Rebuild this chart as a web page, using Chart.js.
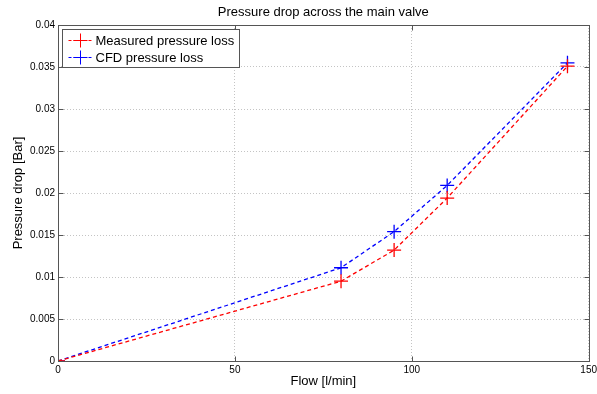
<!DOCTYPE html>
<html>
<head>
<meta charset="utf-8">
<script src="https://cdn.jsdelivr.net/npm/chart.js@4/dist/chart.umd.min.js"></script>
<style>
  html, body { margin: 0; padding: 0; background: #fff; }
  #wrap { width: 597px; height: 394px; }
</style>
</head>
<body>
<div id="wrap"><canvas id="plot" width="597" height="394"></canvas></div>
<script>
const flow = [0, 80, 95, 110, 144];
const measured = [0, 0.0095, 0.0132, 0.0194, 0.0351];
const cfd = [0, 0.0111, 0.0154, 0.0209, 0.0355];
const xTicks = [0, 50, 100, 150];
const yTicks = [0, 0.005, 0.01, 0.015, 0.02, 0.025, 0.03, 0.035, 0.04];
const seriesNames = ['Measured pressure loss', 'CFD pressure loss'];
const seriesColors = ['#ff0000', '#0000ff'];

const font = 'Liberation Sans, Arial, Helvetica, sans-serif';

const toPts = (ys) => flow.map((x, i) => ({ x, y: ys[i] }));

// MATLAB-ish frame, inward ticks, title and boxed legend
const matlabFrame = {
  id: 'matlabFrame',
  afterDraw(chart) {
    const { ctx, chartArea: a, scales } = chart;
    ctx.save();
    ctx.strokeStyle = '#555';
    ctx.lineWidth = 1;
    const L = Math.round(a.left) + 0.5, R = Math.round(a.right) + 0.5;
    const T = Math.round(a.top) + 0.5, B = Math.round(a.bottom) + 0.5;
    ctx.strokeRect(L, T, R - L, B - T);
    ctx.beginPath();
    xTicks.forEach(v => {
      const x = Math.round(scales.x.getPixelForValue(v)) + 0.5;
      ctx.moveTo(x, B); ctx.lineTo(x, B - 5);
      ctx.moveTo(x, T); ctx.lineTo(x, T + 5);
    });
    yTicks.forEach(v => {
      const y = Math.round(scales.y.getPixelForValue(v)) + 0.5;
      ctx.moveTo(L, y); ctx.lineTo(L + 5, y);
      ctx.moveTo(R, y); ctx.lineTo(R - 5, y);
    });
    ctx.stroke();

    // title
    ctx.fillStyle = '#000';
    ctx.font = '13px ' + font;
    ctx.textAlign = 'center';
    ctx.textBaseline = 'middle';
    ctx.fillText('Pressure drop across the main valve', (a.left + a.right) / 2, 12);

    // legend
    const lx = 62.5, ly = 29.5, lw = 177, lh = 38;
    ctx.fillStyle = '#fff';
    ctx.fillRect(lx, ly, lw, lh);
    ctx.strokeStyle = '#555';
    ctx.strokeRect(lx, ly, lw, lh);
    ctx.font = '13px ' + font;
    ctx.textAlign = 'left';
    seriesNames.forEach((name, i) => {
      const cy = ly + 11 + i * 17;
      ctx.strokeStyle = seriesColors[i];
      ctx.beginPath();
      ctx.setLineDash([3, 2]);
      ctx.moveTo(lx + 6, cy); ctx.lineTo(lx + 30, cy);
      ctx.stroke();
      ctx.setLineDash([]);
      ctx.beginPath();
      ctx.moveTo(lx + 18, cy - 7); ctx.lineTo(lx + 18, cy + 7);
      ctx.moveTo(lx + 11, cy); ctx.lineTo(lx + 25, cy);
      ctx.stroke();
      ctx.fillStyle = '#000';
      ctx.fillText(name, lx + 33, cy + 1);
    });
    ctx.restore();
  }
};

const ds = (i, ys) => ({
  label: seriesNames[i],
  data: toPts(ys),
  showLine: true,
  borderColor: seriesColors[i],
  backgroundColor: seriesColors[i],
  borderWidth: 1.3,
  borderDash: [4, 3],
  pointStyle: 'cross',
  pointRadius: 7,
  pointBorderWidth: 1.3,
  pointHoverRadius: 7
});

new Chart(document.getElementById('plot'), {
  type: 'scatter',
  data: { datasets: [ds(0, measured), ds(1, cfd)] },
  options: {
    responsive: false,
    animation: false,
    events: [],
    layout: { padding: { top: 25, right: 5, left: 11, bottom: 0 } },
    plugins: { legend: { display: false }, title: { display: false }, tooltip: { enabled: false } },
    scales: {
      x: {
        type: 'linear', min: 0, max: 150,
        afterBuildTicks: s => { s.ticks = xTicks.map(v => ({ value: v })); },
        afterFit: s => { s.height = 33; s.paddingLeft = 0; s.paddingRight = 0; },
        border: { display: false, dash: [1, 2] },
        grid: { color: '#c4c4c4', drawTicks: false, lineWidth: 1 },
        ticks: { color: '#000', font: { family: font, size: 10 }, padding: 3, maxRotation: 0 },
        title: { display: true, text: 'Flow [l/min]', color: '#000', font: { family: font, size: 13 }, padding: { top: 0, bottom: 5 } }
      },
      y: {
        type: 'linear', min: 0, max: 0.04,
        afterBuildTicks: s => { s.ticks = yTicks.map(v => ({ value: v })); },
        afterFit: s => { s.width = 47; s.paddingTop = 0; s.paddingBottom = 0; },
        border: { display: false, dash: [1, 2] },
        grid: { color: '#c4c4c4', drawTicks: false, lineWidth: 1 },
        ticks: { color: '#000', font: { family: font, size: 10 }, padding: 3, callback: v => String(+v.toFixed(3)) },
        title: { display: true, text: 'Pressure drop [Bar]', color: '#000', font: { family: font, size: 13 }, padding: { top: 0, bottom: 3 } }
      }
    }
  },
  plugins: [matlabFrame]
});
</script>
</body>
</html>
